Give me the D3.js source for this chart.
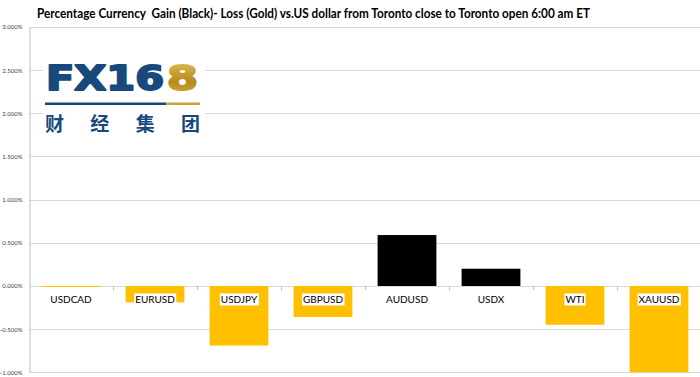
<!DOCTYPE html>
<html><head><meta charset="utf-8">
<script src="https://cdn.jsdelivr.net/npm/d3@7/dist/d3.min.js"></script>
<style>body{margin:0;background:#fff}svg{display:block}</style>
</head><body>
<svg id="c" width="700" height="377"></svg>
<script>
const categories = ["USDCAD","EURUSD","USDJPY","GBPUSD","AUDUSD","USDX","WTI","XAUUSD"];
const values = [-0.01, -0.19, -0.69, -0.36, 0.59, 0.20, -0.45, -1.00];
const yTicks = [3.0, 2.5, 2.0, 1.5, 1.0, 0.5, 0.0, -0.5, -1.0];
const title = "Percentage Currency  Gain (Black)- Loss (Gold) vs.US dollar from Toronto close to Toronto open 6:00 am ET";

const svg = d3.select("#c");
const W = 700, H = 377;
const m = {left: 29, right: 0, top: 27, bottom: 5};
const x = d3.scaleBand().domain(categories).range([m.left, 701]).paddingInner(0.3).paddingOuter(0.15);
const y = d3.scaleLinear().domain([-1, 3]).range([372.3, 27]);

// title
svg.append("text").attr("x", 37).attr("y", 18)
  .attr("font-family", "Lato, 'Open Sans', sans-serif").attr("font-weight", "bold")
  .attr("font-size", 12.5).attr("fill", "#000").style("white-space", "pre")
  .attr("textLength", 553).attr("lengthAdjust", "spacingAndGlyphs")
  .text(title);

// gridlines
svg.append("g").selectAll("line").data(yTicks).join("line")
  .attr("x1", m.left).attr("x2", W).attr("y1", d => Math.round(y(d)) + 0.5).attr("y2", d => Math.round(y(d)) + 0.5)
  .attr("stroke", "#d9d9d9").attr("stroke-width", 1);

// y axis
const yAxis = d3.axisLeft(y).tickValues(yTicks).tickSize(0).tickPadding(7)
  .tickFormat(d => d3.format(".3f")(d) + "%");
const ya = svg.append("g").attr("transform", `translate(${m.left + 0.5},0)`).call(yAxis);
ya.select(".domain").attr("stroke", "#bfbfbf");
ya.selectAll("text").attr("font-family", "Lato, sans-serif").attr("font-size", 6).attr("fill", "#404040");

// logo
const logo = svg.append("g");
logo.append("rect").attr("x", 43).attr("y", 60).attr("width", 162).attr("height", 78).attr("fill", "#fff");
const defs = svg.append("defs");
const gg = defs.append("linearGradient").attr("id", "gold").attr("x1", 0).attr("y1", 0).attr("x2", 0).attr("y2", 1);
gg.append("stop").attr("offset", "0%").attr("stop-color", "#e8c45a");
gg.append("stop").attr("offset", "60%").attr("stop-color", "#b88a1c");
gg.append("stop").attr("offset", "100%").attr("stop-color", "#d4aa3e");
logo.append("text").attr("x", 46).attr("y", 89.5).attr("font-family", "'DejaVu Sans', sans-serif")
  .attr("font-weight", "bold").attr("font-size", 34).attr("fill", "#17497c")
  .attr("stroke", "#17497c").attr("stroke-width", 2).attr("stroke-linejoin", "round")
  .attr("textLength", 118).attr("lengthAdjust", "spacingAndGlyphs").text("FX16");
logo.append("text").attr("x", 167).attr("y", 89.5).attr("font-family", "'DejaVu Sans', sans-serif")
  .attr("font-weight", "bold").attr("font-size", 34).attr("fill", "url(#gold)")
  .attr("stroke", "url(#gold)").attr("stroke-width", 2).attr("stroke-linejoin", "round")
  .attr("textLength", 31).attr("lengthAdjust", "spacingAndGlyphs").text("8");
logo.append("rect").attr("x", 45).attr("y", 102.5).attr("width", 121).attr("height", 2.5).attr("fill", "#17497c");
logo.append("rect").attr("x", 166).attr("y", 102.5).attr("width", 34).attr("height", 2.5).attr("fill", "#c9a23a");
logo.append("text").attr("x", 45).attr("y", 131).attr("font-family", "'Noto Sans CJK SC', sans-serif")
  .attr("font-size", 19).attr("font-weight", "bold").attr("fill", "#17497c")
  .attr("textLength", 155).attr("lengthAdjust", "spacing").text("财经集团");

// zero axis line with ticks
svg.append("line").attr("x1", m.left).attr("x2", W).attr("y1", Math.round(y(0)) + 0.5).attr("y2", Math.round(y(0)) + 0.5)
  .attr("stroke", "#d9d9d9");
const step = x.step();
svg.append("g").selectAll("line").data(d3.range(1, categories.length)).join("line")
  .attr("x1", i => Math.round(x(categories[i]) - step * x.paddingInner() / 2) + 0.5)
  .attr("x2", i => Math.round(x(categories[i]) - step * x.paddingInner() / 2) + 0.5)
  .attr("y1", Math.round(y(0))).attr("y2", Math.round(y(0)) + 4)
  .attr("stroke", "#bfbfbf");

// bars
svg.append("g").selectAll("rect").data(categories).join("rect")
  .attr("x", d => x(d))
  .attr("width", x.bandwidth())
  .attr("y", (d, i) => y(Math.max(0, values[i])))
  .attr("height", (d, i) => Math.max(1, Math.abs(y(values[i]) - y(0))))
  .attr("fill", (d, i) => values[i] >= 0 ? "#000000" : "#ffc000");

// category labels
const lab = svg.append("g").selectAll("g").data(categories).join("g")
  .attr("transform", d => `translate(${x(d) + x.bandwidth() / 2},${y(0) + 17.5})`);
lab.append("text").attr("text-anchor", "middle")
  .attr("font-family", "Lato, 'Open Sans', sans-serif").attr("font-size", 10).attr("fill", "#000")
  .text(d => d);
lab.each(function(d, i) {
  const t = d3.select(this).select("text").node().getBBox();
  if (values[i] < -0.15) {
    d3.select(this).insert("rect", "text").attr("x", t.x - 1).attr("y", t.y).attr("width", t.width + 2).attr("height", t.height).attr("fill", "#fff");
  }
});
</script>
</body></html>
